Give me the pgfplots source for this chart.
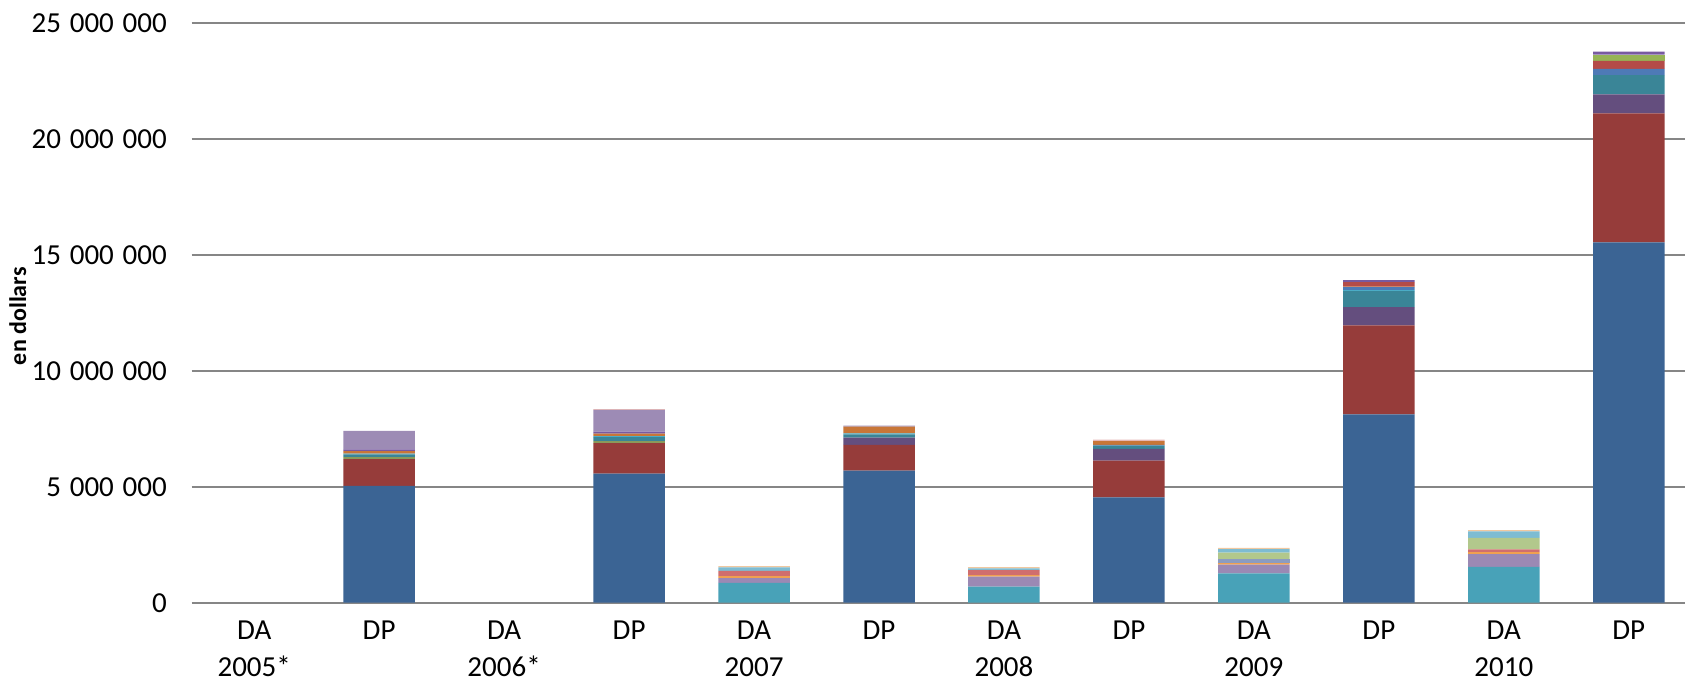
\documentclass[border=0pt]{standalone}
\usepackage{pgfplots}
\usepackage{pgfplotstable}
\pgfplotsset{compat=1.18}
\usepackage{fontspec}
\setmainfont{Carlito}

\definecolor{cB}{HTML}{3B6494}
\definecolor{cR}{HTML}{963C3A}
\definecolor{cOl}{HTML}{8A9A5B}
\definecolor{cPu}{HTML}{644E7E}
\definecolor{cTe}{HTML}{3A8597}
\definecolor{cLb}{HTML}{4BACC6}
\definecolor{cMb}{HTML}{4E7AB6}
\definecolor{cOr}{HTML}{C87638}
\definecolor{cRl}{HTML}{B44B48}
\definecolor{cGr}{HTML}{96B455}
\definecolor{cP2}{HTML}{785AA0}
\definecolor{cLp}{HTML}{9D8BB5}
\definecolor{cPk}{HTML}{E6B9B8}
\definecolor{aC}{HTML}{48A2B8}
\definecolor{aP}{HTML}{9B89B4}
\definecolor{aO}{HTML}{F0A050}
\definecolor{aR}{HTML}{D06E6E}
\definecolor{aG}{HTML}{8C9CC0}
\definecolor{aGr}{HTML}{B2C88C}
\definecolor{aL}{HTML}{7EBCD2}
\definecolor{aPe}{HTML}{F0C8A0}
\definecolor{gridgray}{HTML}{868686}

\pgfplotstableread{
x  b        r       ol     pu     te     lb     mb     or     rl     gr     p2     lp     pk     ac      ap     ao     ar     ag     ag2    al     ape
0  0        0       0      0      0      0      0      0      0      0      0      0      0      0       0      0      0      0      0      0      0
1  5040000  1150000 90000  0      120000 30000  0      110000 0      0      70000  800000 0      0       0      0      0      0      0      0      0
2  0        0       0      0      0      0      0      0      0      0      0      0      0      0       0      0      0      0      0      0      0
3  5560000  1320000 90000  0      170000 40000  0      110000 0      0      90000  930000 40000  0       0      0      0      0      0      0      0
4  0        0       0      0      0      0      0      0      0      0      0      0      0      860000  200000 90000  220000 0      0      150000 60000
5  5690000  1110000 0      320000 140000 40000  0      290000 0      0      0      40000  0      0       0      0      0      0      0      0      0
6  0        0       0      0      0      0      0      0      0      0      0      0      0      690000  440000 60000  220000 0      0      70000  60000
7  4540000  1590000 0      500000 140000 0      30000  170000 0      0      0      0      60000  0       0      0      0      0      0      0      0
8  0        0       0      0      0      0      0      0      0      0      0      0      0      1270000 370000 70000  0      160000 290000 150000 60000
9  8120000  3840000 0      780000 690000 40000  130000 30000  190000 0      90000  0      0      0       0      0      0      0      0      0      0
10 0        0       0      0      0      0      0      0      0      0      0      0      0      1550000 550000 80000  120000 0      500000 280000 50000
11 15530000 5560000 0      820000 830000 0      270000 0      340000 270000 130000 0      0      0       0      0      0      0      0      0      0
}\data

\begin{document}
\begin{tikzpicture}
\begin{axis}[
  at={(0,0)}, anchor=south west,
  scale only axis, width=746.6pt, height=290pt,
  xmin=-0.5, xmax=11.45, ymin=0, ymax=25000000,
  ybar stacked, bar width=35.75pt,
  axis line style={draw=none},
  major tick length=0pt,
  ymajorgrids, grid style={draw=gridgray, line width=0.8pt},
  scaled y ticks=false,
  ytick={0,5000000,10000000,15000000,20000000,25000000},
  yticklabels={0,5\hspace{0.3em}000\hspace{0.3em}000,10\hspace{0.3em}000\hspace{0.3em}000,15\hspace{0.3em}000\hspace{0.3em}000,20\hspace{0.3em}000\hspace{0.3em}000,25\hspace{0.3em}000\hspace{0.3em}000},
  xtick={0,1,2,3,4,5,6,7,8,9,10,11},
  xticklabels={{DA\\2005*},DP,{DA\\2006*},DP,{DA\\2007},DP,{DA\\2008},DP,{DA\\2009},DP,{DA\\2010},DP},
  tick label style={font=\fontsize{14.5}{18.5}\selectfont, text=black},
  yticklabel style={anchor=east, inner sep=0pt, xshift=-12.3pt},
  xticklabel style={anchor=north, inner sep=0pt, yshift=-8.8pt, align=center},
  ylabel={en dollars},
  ylabel style={at={(axis description cs:-0.1165,0.494)}, anchor=center, font=\bfseries\fontsize{12}{14}\selectfont},
]
\addplot[fill=cB, draw=none] table[x=x,y=b]{\data};
\addplot[fill=cR, draw=none] table[x=x,y=r]{\data};
\addplot[fill=cOl, draw=none] table[x=x,y=ol]{\data};
\addplot[fill=cPu, draw=none] table[x=x,y=pu]{\data};
\addplot[fill=cTe, draw=none] table[x=x,y=te]{\data};
\addplot[fill=cLb, draw=none] table[x=x,y=lb]{\data};
\addplot[fill=cMb, draw=none] table[x=x,y=mb]{\data};
\addplot[fill=cOr, draw=none] table[x=x,y=or]{\data};
\addplot[fill=cRl, draw=none] table[x=x,y=rl]{\data};
\addplot[fill=cGr, draw=none] table[x=x,y=gr]{\data};
\addplot[fill=cP2, draw=none] table[x=x,y=p2]{\data};
\addplot[fill=cLp, draw=none] table[x=x,y=lp]{\data};
\addplot[fill=cPk, draw=none] table[x=x,y=pk]{\data};
\addplot[fill=aC, draw=none] table[x=x,y=ac]{\data};
\addplot[fill=aP, draw=none] table[x=x,y=ap]{\data};
\addplot[fill=aO, draw=none] table[x=x,y=ao]{\data};
\addplot[fill=aR, draw=none] table[x=x,y=ar]{\data};
\addplot[fill=aG, draw=none] table[x=x,y=ag]{\data};
\addplot[fill=aGr, draw=none] table[x=x,y=ag2]{\data};
\addplot[fill=aL, draw=none] table[x=x,y=al]{\data};
\addplot[fill=aPe, draw=none] table[x=x,y=ape]{\data};
\end{axis}
\pgfresetboundingbox
\useasboundingbox (-95.85pt,-39.65pt) rectangle (746.6pt,301.35pt);
\end{tikzpicture}
\end{document}
